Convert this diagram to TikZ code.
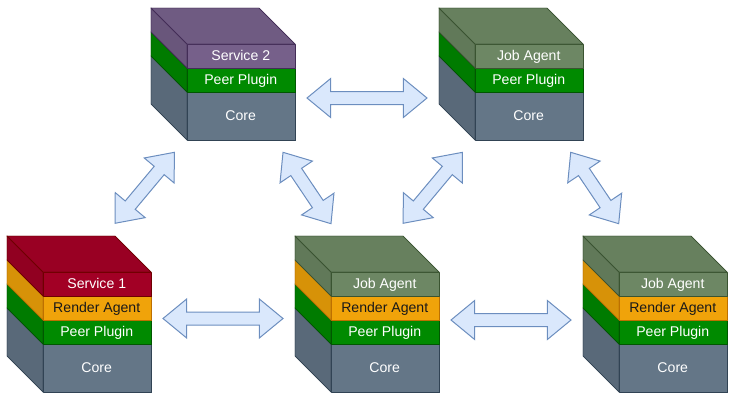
\documentclass[tikz,border=0pt]{standalone}
\usepackage{fontspec}
\setmainfont{Liberation Sans}
\usetikzlibrary{shapes.arrows}
\definecolor{redF}{HTML}{A20025}\definecolor{redS}{HTML}{6F0000}
\definecolor{ambF}{HTML}{F0A30A}\definecolor{ambS}{HTML}{BD7000}
\definecolor{grnF}{HTML}{008A00}\definecolor{grnS}{HTML}{005700}
\definecolor{slaF}{HTML}{647687}\definecolor{slaS}{HTML}{314354}
\definecolor{purF}{HTML}{76608A}\definecolor{purS}{HTML}{432D57}
\definecolor{oliF}{HTML}{6D8764}\definecolor{oliS}{HTML}{3A5431}
\definecolor{bluF}{HTML}{DAE8FC}\definecolor{bluS}{HTML}{6C8EBF}
\tikzset{
  x=1pt,y=-1pt,
  face/.style={line width=1pt,line join=round,anchor=north west,inner sep=0pt,minimum width=108pt,font=\fontsize{14.1}{16}\selectfont},
  arrowbox/.style={double arrow,draw=bluS,fill=bluF,line width=1pt,inner xsep=0pt,inner ysep=6pt,minimum width=0pt,
    double arrow head extend=13pt,double arrow tip angle=79,anchor=center},
  red/.style={fill=redF,draw=redS,text=white},
  amber/.style={fill=ambF,draw=ambS,text=black!90},
  green/.style={fill=grnF,draw=grnS,text=white},
  slate/.style={fill=slaF,draw=slaS,text=white},
  purple/.style={fill=purF,draw=purS,text=white},
  olive/.style={fill=oliF,draw=oliS,text=white},
}
% name, back-left x, y of layer top, height, style, text
\newcommand{\layerbox}[6]{%
  \path[#5] (#2,#3) -- ++(36,36) -- ++(0,#4) -- ++(-36,-36) -- cycle;
  \path[fill=black,fill opacity=.1] (#2,#3) -- ++(36,36) -- ++(0,#4) -- ++(-36,-36) -- cycle;
  \path[#5,fill=none] (#2,#3) -- ++(36,36) -- ++(0,#4) -- ++(-36,-36) -- cycle;
  \node[face,#5,minimum height=#4pt] (#1) at (#2+36,#3+36) {\hspace*{-1.5pt}\raisebox{1.3pt}{#6}};
}
\newcommand{\topface}[4]{%
  \path[#4] (#1,#2) -- ++(108,0) -- ++(36,36) -- ++(-108,0) -- cycle;
  \path[fill=black,fill opacity=.05] (#1,#2) -- ++(108,0) -- ++(36,36) -- ++(-108,0) -- cycle;
  \path[#4,fill=none] (#1,#2) -- ++(108,0) -- ++(36,36) -- ++(-108,0) -- cycle;
}
\begin{document}
\begin{tikzpicture}
\useasboundingbox (0,0) rectangle (735,400);
% Service 2 cube
\layerbox{sTwoCore}{151}{56}{48}{slate}{Core}
\layerbox{sTwoPeer}{151}{32}{24}{green}{Peer Plugin}
\layerbox{sTwoSvc}{151}{8}{24}{purple}{Service 2}
\topface{151}{8}{}{purple}
% Job agent top
\layerbox{jaCore}{439}{56}{48}{slate}{Core}
\layerbox{jaPeer}{439}{32}{24}{green}{Peer Plugin}
\layerbox{jaSvc}{439}{8}{24}{olive}{Job Agent}
\topface{439}{8}{}{olive}
% Service 1
\layerbox{sOneCore}{7}{308}{48}{slate}{Core}
\layerbox{sOnePeer}{7}{284}{24}{green}{Peer Plugin}
\layerbox{sOneRen}{7}{260}{24}{amber}{Render Agent}
\layerbox{sOneSvc}{7}{236}{24}{red}{Service 1}
\topface{7}{236}{}{red}
% Middle
\layerbox{mCore}{295}{308}{48}{slate}{Core}
\layerbox{mPeer}{295}{284}{24}{green}{Peer Plugin}
\layerbox{mRen}{295}{260}{24}{amber}{Render Agent}
\layerbox{mJob}{295}{236}{24}{olive}{Job Agent}
\topface{295}{236}{}{olive}
% Right
\layerbox{rCore}{583}{308}{48}{slate}{Core}
\layerbox{rPeer}{583}{284}{24}{green}{Peer Plugin}
\layerbox{rRen}{583}{260}{24}{amber}{Render Agent}
\layerbox{rJob}{583}{236}{24}{olive}{Job Agent}
\topface{583}{236}{}{olive}
% Arrows
\node[arrowbox,minimum height=120pt] (aTop) at (367,98) {};
\node[arrowbox,minimum height=120pt] (aBotL) at (223,318.5) {};
\node[arrowbox,minimum height=120pt] (aBotR) at (511,320) {};
\node[arrowbox,minimum height=92.5pt,rotate=50.1] (aA) at (144.7,187.8) {};
\node[arrowbox,minimum height=86pt,rotate=-56.1] (aB) at (307,188) {};
\node[arrowbox,minimum height=92.5pt,rotate=50.1] (aC) at (432.8,187.8) {};
\node[arrowbox,minimum height=86pt,rotate=-56.1] (aD) at (594.7,188) {};
\end{tikzpicture}
\end{document}
